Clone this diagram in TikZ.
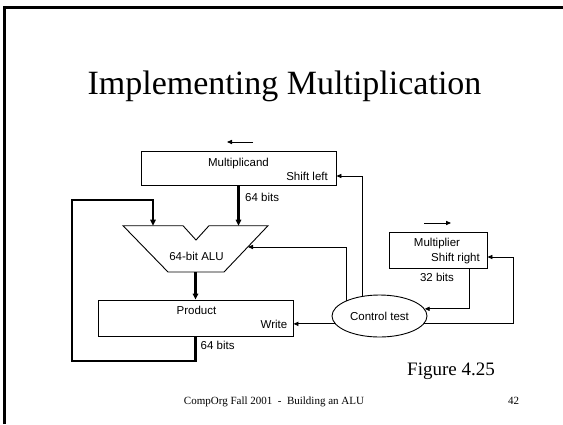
\documentclass[tikz,border=0pt]{standalone}
\usepackage{fontspec}
\setmainfont{Liberation Serif}
\newfontfamily\arialf{Liberation Sans}
\usetikzlibrary{arrows.meta,shapes.geometric}
\begin{document}
\begin{tikzpicture}[x=1pt,y=-1pt,
  wire/.style={line width=0.9pt},
  bus/.style={line width=2.4pt},
  arr/.style={-{Triangle[length=5pt,width=4.2pt]}},
  busarr/.style={-{Triangle[length=6pt,width=5.5pt]}},
  box/.style={draw,line width=0.9pt,inner sep=0pt},
  lbl/.style={font=\arialf\fontsize{11.5}{13}\selectfont,inner sep=0pt,anchor=base}]
\useasboundingbox (0,0) rectangle (563,424);
% slide frame
\draw[line width=2.6pt] (4.5,424) -- (4.5,7.5) -- (563,7.5);
% title and footer
\node[font=\fontsize{34}{40}\selectfont,inner sep=0pt,anchor=base] (title) at (284.5,94) {Implementing Multiplication};
\node[font=\fontsize{19}{22}\selectfont,inner sep=0pt,anchor=base west] (fig) at (407,375) {Figure 4.25};
\node[font=\fontsize{11}{13}\selectfont,inner sep=0pt,anchor=base] (foot) at (274,404) {CompOrg Fall 2001\ \ -\ \ Building an ALU};
\node[font=\fontsize{11}{13}\selectfont,inner sep=0pt,anchor=base west] (page) at (508,404) {42};
% boxes
\node[box,minimum width=195pt,minimum height=34pt] (mcand) at (238.5,168) {};
\node[box,minimum width=195pt,minimum height=36pt] (prod) at (195.5,318) {};
\node[box,minimum width=98pt,minimum height=36pt] (mult) at (438,250) {};
\node[draw,ellipse,line width=0.9pt,minimum width=95pt,minimum height=42pt,inner sep=0pt,
      font=\arialf\fontsize{11.5}{13}\selectfont] (ctrl) at (379.5,316) {Control test};
% ALU
\coordinate (alutl) at (123,225.7);
\coordinate (alutr) at (268,225.7);
\coordinate (alubr) at (224,272);
\coordinate (alubl) at (168,272);
\draw[wire,line join=miter] (alutl) -- (183,225.7) -- (196,240) -- (209,225.7) -- (alutr) -- (alubr) -- (alubl) -- cycle;
\coordinate (aluinL) at (153,225.7);
\coordinate (aluinR) at (238.5,225.7);
\coordinate (aluctl) at (248,247);
\coordinate (aluout) at (195.5,272);
% labels
\node[lbl] at (238.5,166.5) {Multiplicand};
\node[lbl,anchor=base east] at (328,180) {Shift left};
\node[lbl,anchor=base west] at (245,201.5) {64 bits};
\node[lbl] at (196.5,260.5) {64-bit ALU};
\node[lbl] at (196.5,314) {Product};
\node[lbl,anchor=base east] at (287.5,328) {Write};
\node[lbl,anchor=base west] at (200.5,349) {64 bits};
\node[lbl] at (437,246.5) {Multiplier};
\node[lbl,anchor=base east] at (480,261) {Shift right};
\node[lbl] at (437,281.5) {32 bits};
% shift direction arrows
\coordinate (sl1) at (253,142);
\coordinate (sl2) at (227,142);
\coordinate (sr1) at (424,223);
\coordinate (sr2) at (451,223);
\draw[wire,arr] (sl1) -- (sl2);
\draw[wire,arr] (sr1) -- (sr2);
% data paths
\draw[bus,busarr] (mcand.south) -- (aluinR);
\draw[bus,busarr] (aluout) -- (prod.north);
\coordinate (loopbl) at (72,361);
\coordinate (looptr) at (153,200);
\draw[bus,busarr,line join=miter] (prod.south) |- (loopbl) |- (looptr) -- (aluinL);
% control paths
\draw[wire,arr] (ctrl.130) |- ([yshift=-8pt]mcand.east);
\draw[wire,arr] (ctrl.155) |- (aluctl);
\draw[wire,arr] (ctrl.190) -- (ctrl.190 -| prod.east);
\draw[wire,arr] ([xshift=31pt]mult.south) |- (ctrl.9);
\coordinate (rloop) at (513,257);
\draw[wire,arr] (ctrl.-10) -| (rloop) -- ([yshift=-7pt]mult.east);
\end{tikzpicture}
\end{document}
